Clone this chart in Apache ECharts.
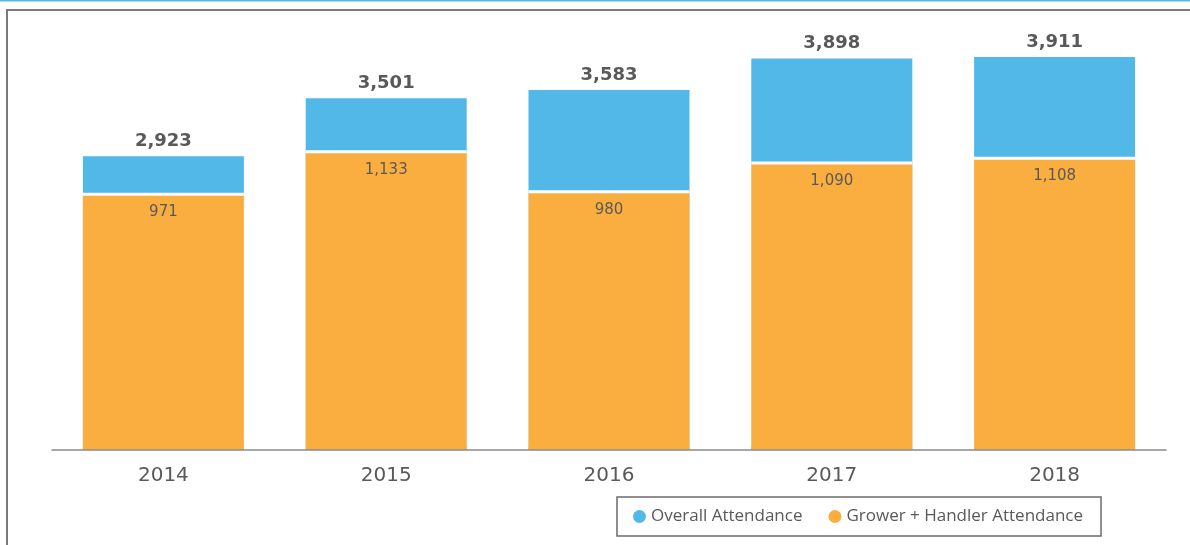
<!DOCTYPE html>
<html>
<head>
<meta charset="utf-8">
<title>Attendance 2014–2018</title>
<script src="https://cdn.jsdelivr.net/npm/echarts@6/dist/echarts.min.js"></script>
<style>
  html, body { margin: 0; padding: 0; background: #ffffff; }
  #chart { width: 1190px; height: 545px; }
</style>
</head>
<body>
<div id="chart"></div>
<script>
// Attendance by year
const years = ['2014', '2015', '2016', '2017', '2018'];
const overallAttendance = [2923, 3501, 3583, 3898, 3911];
const growerHandlerAttendance = [971, 1133, 980, 1090, 1108];

const TEXT = '#595959';
const BLUE = '#52b8e8';
const ORANGE = '#fbae40';
const FONT = '"DejaVu Sans", "Open Sans", sans-serif';
const LEGEND_FONT = '"Open Sans", "Noto Sans", sans-serif';

const fmt = v => Number(v).toLocaleString('en-US');

const chart = echarts.init(document.getElementById('chart'), null, { renderer: 'canvas' });

chart.setOption({
  backgroundColor: '#ffffff',
  animation: false,
  textStyle: { fontFamily: FONT },
  graphic: [
    // thin accent rule along the top edge
    { type: 'line', shape: { x1: 0, y1: 0.5, x2: 1190, y2: 0.5 },
      style: { stroke: BLUE, lineWidth: 2 }, z: 10 },
    // panel frame (top and left edges)
    { type: 'polyline', shape: { points: [[7, 545], [7, 10], [1190, 10]] },
      style: { stroke: '#7a7a7a', lineWidth: 2, fill: null }, z: 10 }
  ],
  grid: { left: 52, right: 24, top: 10, bottom: 95, containLabel: false },
  legend: {
    data: ['Overall Attendance', 'Grower + Handler Attendance'],
    left: 617,
    top: 497,
    orient: 'horizontal',
    icon: 'circle',
    itemWidth: 13,
    itemHeight: 13,
    itemGap: 26,
    padding: [11, 18, 11, 16],
    borderColor: '#6b6b6b',
    borderWidth: 1.5,
    textStyle: { color: TEXT, fontSize: 17, fontFamily: LEGEND_FONT }
  },
  xAxis: {
    type: 'category',
    data: years,
    z: 10,
    axisLine: { show: true, lineStyle: { color: '#8a8a8a', width: 1.5 } },
    axisTick: { show: false },
    axisLabel: { color: TEXT, fontSize: 20, margin: 16, fontFamily: FONT }
  },
  yAxis: [
    // scale for the grower + handler bars
    { type: 'value', min: 0, max: 1680, show: false, splitLine: { show: false } },
    // scale for the overall attendance bars
    { type: 'value', min: 0, max: 4380, show: false, splitLine: { show: false } }
  ],
  series: [
    {
      name: 'Overall Attendance',
      type: 'bar',
      yAxisIndex: 1,
      data: overallAttendance,
      barWidth: 161,
      barGap: '-100%',
      z: 2,
      itemStyle: { color: BLUE },
      label: {
        show: true,
        position: 'top',
        distance: 6,
        color: TEXT,
        fontSize: 18,
        fontWeight: 'bold',
        fontFamily: FONT,
        formatter: p => fmt(p.value)
      }
    },
    {
      name: 'Grower + Handler Attendance',
      type: 'bar',
      yAxisIndex: 0,
      data: growerHandlerAttendance,
      barWidth: 161,
      barGap: '-100%',
      z: 3,
      // a white offset shadow opens a thin gap above each orange bar
      itemStyle: {
        color: ORANGE,
        shadowColor: '#ffffff',
        shadowBlur: 0,
        shadowOffsetX: 0,
        shadowOffsetY: -3
      },
      label: {
        show: true,
        position: 'insideTop',
        distance: 9,
        color: TEXT,
        fontSize: 15,
        fontFamily: FONT,
        formatter: p => fmt(p.value)
      }
    }
  ]
});
</script>
</body>
</html>
